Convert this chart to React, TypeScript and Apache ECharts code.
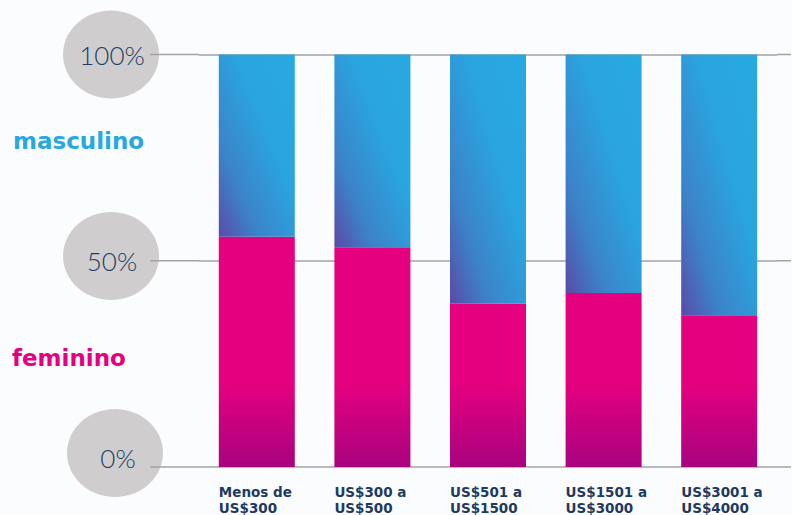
import React, { useEffect, useRef } from "react";
import * as echarts from "echarts";

const categories = [
  "Menos de\nUS$300",
  "US$300 a\nUS$500",
  "US$501 a\nUS$1500",
  "US$1501 a\nUS$3000",
  "US$3001 a\nUS$4000",
];
const feminino = [55.8, 53.3, 39.6, 42.2, 36.8];
const masculino = [44.2, 46.7, 60.4, 57.8, 63.2];
const yTicks = [0, 50, 100];

const NAVY = "#1f3a5f";
const LINE = "#a3a3a3";

export default function App() {
  const ref = useRef<HTMLDivElement>(null);
  useEffect(() => {
    if (!ref.current) return;
    const chart = echarts.init(ref.current, undefined, { renderer: "svg" });
    const gridLeft = 199;
    const gridRight = 15;
    const pinkGrad = new echarts.graphic.LinearGradient(
      0,
      54,
      0,
      467,
      [
        { offset: 0, color: "#e6007e" },
        { offset: 0.8, color: "#e4007f" },
        { offset: 1, color: "#a8037f" },
      ],
      true
    );
    const blueGrad = new echarts.graphic.LinearGradient(0, 1, 1, 0, [
      { offset: 0, color: "#5a4aa6" },
      { offset: 0.25, color: "#3c82c9" },
      { offset: 0.6, color: "#2aa4de" },
      { offset: 1, color: "#28a9e1" },
    ]);
    chart.setOption({
      animation: false,
      backgroundColor: "#fafcfe",
      grid: { left: gridLeft, right: gridRight, top: 54.5, bottom: 48 },
      legend: [
        {
          data: ["masculino"],
          left: 3,
          top: 124,
          icon: "none",
          itemWidth: 0,
          itemGap: 0,
          selectedMode: false,
          textStyle: {
            color: "#29a8e0",
            fontSize: 23,
            fontWeight: "bold",
            fontFamily: "DejaVu Sans",
          },
        },
        {
          data: ["feminino"],
          left: 2,
          top: 341,
          icon: "none",
          itemWidth: 0,
          itemGap: 0,
          selectedMode: false,
          textStyle: {
            color: "#e6007e",
            fontSize: 23,
            fontWeight: "bold",
            fontFamily: "DejaVu Sans",
          },
        },
      ],
      xAxis: {
        type: "category",
        data: categories,
        axisLine: { show: false },
        axisTick: { show: false },
        axisLabel: {
          interval: 0,
          margin: 17,
          align: "center",
          formatter: (v: string) =>
            v
              .split("\n")
              .map((l) => `{a|${l}}`)
              .join("\n"),
          rich: {
            a: {
              width: 76,
              align: "left",
              fontSize: 13.5,
              lineHeight: 16,
              fontWeight: "bold",
              color: NAVY,
              fontFamily: "DejaVu Sans",
            },
          },
        },
      },
      yAxis: {
        type: "value",
        min: 0,
        max: 100,
        interval: 50,
        axisLine: { show: false },
        axisTick: { show: false },
        splitLine: { lineStyle: { color: LINE, width: 1.5 } },
        axisLabel: {
          margin: 87,
          align: "center",
          verticalAlign: "middle",
          formatter: (v: number) =>
            v === 0 ? `{z|${v}%}` : `{n|${v}%}`,
          rich: {
            n: {
              fontSize: 26,
              color: "#263c5e",
              fontFamily: "Lato",
              fontWeight: 300,
            },
            z: {
              fontSize: 26,
              color: "#263c5e",
              fontFamily: "Lato",
              fontWeight: 300,
              padding: [0, 0, 18, 12],
            },
          },
        },
      },
      series: [
        {
          name: "feminino",
          type: "bar",
          stack: "total",
          barWidth: 76,
          data: feminino,
          itemStyle: { color: pinkGrad },
        },
        {
          name: "masculino",
          type: "bar",
          stack: "total",
          barWidth: 76,
          data: masculino,
          itemStyle: { color: blueGrad },
        },
      ],
    });

    const w = chart.getWidth();
    const lines: any[] = [];
    yTicks.forEach((t) => {
      const y = chart.convertToPixel({ yAxisIndex: 0 }, t) as number;
      lines.push({
        type: "line",
        shape: { x1: 150, y1: y, x2: gridLeft, y2: y },
        style: { stroke: LINE, lineWidth: 1.5 },
        silent: true,
      });
      lines.push({
        type: "line",
        shape: { x1: w - gridRight, y1: y, x2: 791, y2: y },
        style: { stroke: LINE, lineWidth: 1.5 },
        silent: true,
      });
    });
    const circles = [
      { cx: 111, cy: 54.5 },
      { cx: 111, cy: 256 },
      { cx: 115, cy: 453 },
    ].map((c) => ({
      type: "ellipse",
      shape: { cx: c.cx, cy: c.cy, rx: 48, ry: 44 },
      style: { fill: "#cfcdce" },
      silent: true,
      z: -1,
    }));
    chart.setOption({ graphic: [...lines, ...circles] });
    return () => chart.dispose();
  }, []);
  return (
    <div
      ref={ref}
      style={{ position: "fixed", left: 0, top: 0, width: 792, height: 515 }}
    />
  );
}
